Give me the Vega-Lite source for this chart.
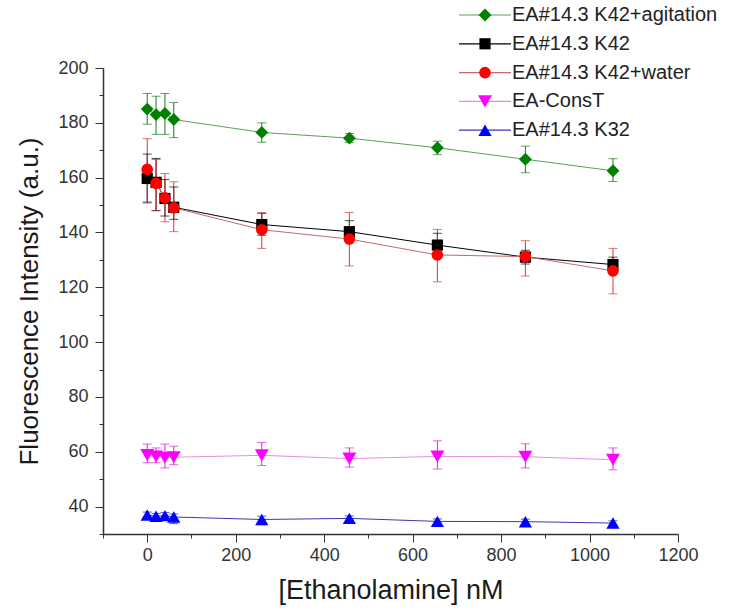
{
  "$schema": "https://vega.github.io/schema/vega-lite/v6.json",
  "width": 575,
  "height": 466,
  "autosize": {"type": "none"},
  "padding": {"left": 103, "top": 68, "right": 60, "bottom": 80},
  "background": "white",
  "config": {
    "view": {"stroke": null},
    "font": "Liberation Sans",
    "axis": {
      "domainColor": "#333333",
      "domainWidth": 1.5,
      "tickColor": "#333333",
      "tickWidth": 1,
      "labelColor": "#333333",
      "labelFont": "Liberation Sans",
      "labelFontSize": 18,
      "titleFont": "Liberation Sans",
      "titleFontSize": 27,
      "titleFontWeight": "normal",
      "titleColor": "#1a1a1a",
      "grid": false
    },
    "legend": {
      "labelFont": "Liberation Sans",
      "labelFontSize": 20,
      "labelColor": "#222222",
      "labelLimit": 400
    }
  },
  "data": {
    "values": [
      {"series": "\u00a0EA#14.3 K42+agitation", "x": 0, "y": 185, "lo": 179.5, "hi": 190.7},
      {"series": "\u00a0EA#14.3 K42+agitation", "x": 20, "y": 183, "lo": 175.8, "hi": 189.7},
      {"series": "\u00a0EA#14.3 K42+agitation", "x": 40, "y": 183.4, "lo": 175.8, "hi": 190.7},
      {"series": "\u00a0EA#14.3 K42+agitation", "x": 60, "y": 181.2, "lo": 174.6, "hi": 187.4},
      {"series": "\u00a0EA#14.3 K42+agitation", "x": 259, "y": 176.5, "lo": 172.9, "hi": 180},
      {"series": "\u00a0EA#14.3 K42+agitation", "x": 457, "y": 174.4, "lo": 172.8, "hi": 176.1},
      {"series": "\u00a0EA#14.3 K42+agitation", "x": 656, "y": 170.9, "lo": 168.4, "hi": 173.3},
      {"series": "\u00a0EA#14.3 K42+agitation", "x": 855, "y": 166.7, "lo": 161.8, "hi": 171.5},
      {"series": "\u00a0EA#14.3 K42+agitation", "x": 1053, "y": 162.5, "lo": 158.6, "hi": 166.9},
      {"series": "EA#14.3 K42", "x": 0, "y": 159.7, "lo": 150.8, "hi": 168.6},
      {"series": "EA#14.3 K42", "x": 20, "y": 158.3, "lo": 148, "hi": 167},
      {"series": "EA#14.3 K42", "x": 40, "y": 152.4, "lo": 146, "hi": 159.3},
      {"series": "EA#14.3 K42", "x": 60, "y": 149.2, "lo": 144.8, "hi": 156.6},
      {"series": "EA#14.3 K42", "x": 259, "y": 142.9, "lo": 139, "hi": 147},
      {"series": "EA#14.3 K42", "x": 457, "y": 140.3, "lo": 137.5, "hi": 144.3},
      {"series": "EA#14.3 K42", "x": 656, "y": 135.4, "lo": 131, "hi": 139.7},
      {"series": "EA#14.3 K42", "x": 855, "y": 131, "lo": 128.5, "hi": 133.5},
      {"series": "EA#14.3 K42", "x": 1053, "y": 128.3, "lo": 125.5, "hi": 131},
      {"series": "EA#14.3 K42+water", "x": 0, "y": 163, "lo": 151.2, "hi": 174.2},
      {"series": "EA#14.3 K42+water", "x": 20, "y": 157.9, "lo": 147.9, "hi": 166.6},
      {"series": "EA#14.3 K42+water", "x": 40, "y": 152.6, "lo": 143.9, "hi": 161.5},
      {"series": "EA#14.3 K42+water", "x": 60, "y": 149, "lo": 140.3, "hi": 158.5},
      {"series": "EA#14.3 K42+water", "x": 259, "y": 141, "lo": 134.2, "hi": 147.2},
      {"series": "EA#14.3 K42+water", "x": 457, "y": 137.6, "lo": 127.8, "hi": 147.3},
      {"series": "EA#14.3 K42+water", "x": 656, "y": 131.8, "lo": 122, "hi": 141.1},
      {"series": "EA#14.3 K42+water", "x": 855, "y": 131.2, "lo": 124.1, "hi": 137},
      {"series": "EA#14.3 K42+water", "x": 1053, "y": 126, "lo": 117.6, "hi": 134.2},
      {"series": "EA-ConsT", "x": 0, "y": 58.8, "lo": 56, "hi": 62.8},
      {"series": "EA-ConsT", "x": 20, "y": 58.3, "lo": 56, "hi": 61.4},
      {"series": "EA-ConsT", "x": 40, "y": 57.8, "lo": 54.1, "hi": 62.8},
      {"series": "EA-ConsT", "x": 60, "y": 58, "lo": 55.3, "hi": 62},
      {"series": "EA-ConsT", "x": 259, "y": 58.7, "lo": 55, "hi": 63.4},
      {"series": "EA-ConsT", "x": 457, "y": 57.5, "lo": 54.4, "hi": 61.4},
      {"series": "EA-ConsT", "x": 656, "y": 58.3, "lo": 53.7, "hi": 64},
      {"series": "EA-ConsT", "x": 855, "y": 58.2, "lo": 54.1, "hi": 62.9},
      {"series": "EA-ConsT", "x": 1053, "y": 57.1, "lo": 53.4, "hi": 61.4},
      {"series": "EA#14.3 K32", "x": 0, "y": 36.9, "lo": 35.5, "hi": 38},
      {"series": "EA#14.3 K32", "x": 20, "y": 36.5, "lo": 35.3, "hi": 37.5},
      {"series": "EA#14.3 K32", "x": 40, "y": 36.7, "lo": 35.6, "hi": 37.8},
      {"series": "EA#14.3 K32", "x": 60, "y": 36.2, "lo": 33.8, "hi": 37.3},
      {"series": "EA#14.3 K32", "x": 259, "y": 35.3, "lo": 33.4, "hi": 36.5},
      {"series": "EA#14.3 K32", "x": 457, "y": 35.7, "lo": 34.6, "hi": 36.6},
      {"series": "EA#14.3 K32", "x": 656, "y": 34.6, "lo": 32.8, "hi": 35.5},
      {"series": "EA#14.3 K32", "x": 855, "y": 34.5, "lo": 33.5, "hi": 35.4},
      {"series": "EA#14.3 K32", "x": 1053, "y": 34, "lo": 33.2, "hi": 34.8}
    ]
  },
  "encoding": {
    "x": {
      "field": "x",
      "type": "quantitative",
      "scale": {"domain": [-100, 1200], "nice": false, "zero": false},
      "axis": {
        "title": "[Ethanolamine] nM",
        "values": [-100, 0, 100, 200, 300, 400, 500, 600, 700, 800, 900, 1000, 1100, 1200],
        "format": "d",
        "labelExpr": "datum.value % 200 === 0 ? datum.label : ''",
        "tickSize": {"condition": {"test": "datum.value % 200 === 0", "value": 8}, "value": 4},
        "labelPadding": 4,
        "titlePadding": 13,
        "labelFlush": false,
        "labelOverlap": false
      }
    },
    "y": {
      "field": "y",
      "type": "quantitative",
      "scale": {"domain": [30, 200], "nice": false, "zero": false},
      "axis": {
        "title": "Fluorescence Intensity (a.u.)",
        "titleFontSize": 26,
        "values": [30, 40, 50, 60, 70, 80, 90, 100, 110, 120, 130, 140, 150, 160, 170, 180, 190, 200],
        "format": "d",
        "labelExpr": "datum.value % 20 === 0 && datum.value >= 40 ? datum.label : ''",
        "tickSize": {"condition": {"test": "datum.value % 20 === 0", "value": 8}, "value": 4},
        "labelPadding": 7,
        "titlePadding": 15,
        "labelFlush": false,
        "labelOverlap": false
      }
    }
  },
  "layer": [
    {
      "mark": {"type": "line", "strokeWidth": 1},
      "encoding": {
        "color": {
          "field": "series",
          "type": "nominal",
          "scale": {
            "domain": ["\u00a0EA#14.3 K42+agitation", "EA#14.3 K42", "EA#14.3 K42+water", "EA-ConsT", "EA#14.3 K32"],
            "range": ["#5c9e5c", "#000000", "#c46a6a", "#e88ce8", "#3a3aa8"]
          },
          "legend": {
            "title": null,
            "orient": "none",
            "legendX": 372,
            "legendY": -63,
            "padding": 0,
            "symbolType": "M-5.2,0H5.2",
            "symbolSize": 100,
            "symbolStrokeWidth": 1.2,
            "labelOffset": 17,
            "rowPadding": 8.8
          }
        }
      }
    },
    {
      "mark": {"type": "rule", "strokeWidth": 1},
      "encoding": {
        "y": {
          "field": "lo",
          "type": "quantitative",
          "scale": {"domain": [30, 200], "nice": false, "zero": false},
          "axis": {
            "title": "Fluorescence Intensity (a.u.)",
            "titleFontSize": 26,
            "values": [30, 40, 50, 60, 70, 80, 90, 100, 110, 120, 130, 140, 150, 160, 170, 180, 190, 200],
            "format": "d",
            "labelExpr": "datum.value % 20 === 0 && datum.value >= 40 ? datum.label : ''",
            "tickSize": {"condition": {"test": "datum.value % 20 === 0", "value": 8}, "value": 4},
            "labelPadding": 7,
            "titlePadding": 15,
            "labelFlush": false,
            "labelOverlap": false
          }
        },
        "y2": {"field": "hi"},
        "color": {
          "field": "series",
          "type": "nominal",
          "scale": {
            "domain": ["\u00a0EA#14.3 K42+agitation", "EA#14.3 K42", "EA#14.3 K42+water", "EA-ConsT", "EA#14.3 K32"],
            "range": ["#1f7a1f", "#000000", "#d03a3a", "#e020e0", "#1010e0"]
          },
          "legend": null
        }
      }
    },
    {
      "mark": {"type": "tick", "orient": "horizontal", "size": 9, "thickness": 1},
      "encoding": {
        "y": {
          "field": "lo",
          "type": "quantitative",
          "scale": {"domain": [30, 200], "nice": false, "zero": false},
          "axis": {
            "title": "Fluorescence Intensity (a.u.)",
            "titleFontSize": 26,
            "values": [30, 40, 50, 60, 70, 80, 90, 100, 110, 120, 130, 140, 150, 160, 170, 180, 190, 200],
            "format": "d",
            "labelExpr": "datum.value % 20 === 0 && datum.value >= 40 ? datum.label : ''",
            "tickSize": {"condition": {"test": "datum.value % 20 === 0", "value": 8}, "value": 4},
            "labelPadding": 7,
            "titlePadding": 15,
            "labelFlush": false,
            "labelOverlap": false
          }
        },
        "color": {
          "field": "series",
          "type": "nominal",
          "scale": {
            "domain": ["\u00a0EA#14.3 K42+agitation", "EA#14.3 K42", "EA#14.3 K42+water", "EA-ConsT", "EA#14.3 K32"],
            "range": ["#1f7a1f", "#000000", "#d03a3a", "#e020e0", "#1010e0"]
          },
          "legend": null
        }
      }
    },
    {
      "mark": {"type": "tick", "orient": "horizontal", "size": 9, "thickness": 1},
      "encoding": {
        "y": {
          "field": "hi",
          "type": "quantitative",
          "scale": {"domain": [30, 200], "nice": false, "zero": false},
          "axis": {
            "title": "Fluorescence Intensity (a.u.)",
            "titleFontSize": 26,
            "values": [30, 40, 50, 60, 70, 80, 90, 100, 110, 120, 130, 140, 150, 160, 170, 180, 190, 200],
            "format": "d",
            "labelExpr": "datum.value % 20 === 0 && datum.value >= 40 ? datum.label : ''",
            "tickSize": {"condition": {"test": "datum.value % 20 === 0", "value": 8}, "value": 4},
            "labelPadding": 7,
            "titlePadding": 15,
            "labelFlush": false,
            "labelOverlap": false
          }
        },
        "color": {
          "field": "series",
          "type": "nominal",
          "scale": {
            "domain": ["\u00a0EA#14.3 K42+agitation", "EA#14.3 K42", "EA#14.3 K42+water", "EA-ConsT", "EA#14.3 K32"],
            "range": ["#1f7a1f", "#000000", "#d03a3a", "#e020e0", "#1010e0"]
          },
          "legend": null
        }
      }
    },
    {
      "mark": {"type": "point", "filled": true, "opacity": 1, "strokeWidth": 0},
      "encoding": {
        "color": {
          "field": "series",
          "type": "nominal",
          "scale": {
            "domain": ["\u00a0EA#14.3 K42+agitation", "EA#14.3 K42", "EA#14.3 K42+water", "EA-ConsT", "EA#14.3 K32"],
            "range": ["#008000", "#000000", "#ff0000", "#ff00ff", "#0000ff"]
          },
          "legend": {
            "title": null,
            "orient": "none",
            "legendX": 372,
            "legendY": -63,
            "padding": 0,
            "labelOffset": 17,
            "rowPadding": 8.8,
            "labelOpacity": 0
          }
        },
        "shape": {
          "field": "series",
          "type": "nominal",
          "scale": {
            "domain": ["\u00a0EA#14.3 K42+agitation", "EA#14.3 K42", "EA#14.3 K42+water", "EA-ConsT", "EA#14.3 K32"],
            "range": ["diamond", "square", "circle", "triangle-down", "triangle-up"]
          },
          "legend": {
            "title": null,
            "orient": "none",
            "legendX": 372,
            "legendY": -63,
            "padding": 0,
            "labelOffset": 17,
            "rowPadding": 8.8,
            "labelOpacity": 0
          }
        },
        "size": {
          "field": "series",
          "type": "nominal",
          "scale": {
            "type": "ordinal",
            "domain": ["\u00a0EA#14.3 K42+agitation", "EA#14.3 K42", "EA#14.3 K42+water", "EA-ConsT", "EA#14.3 K32"],
            "range": [165, 125, 135, 195, 175]
          },
          "legend": {
            "title": null,
            "orient": "none",
            "legendX": 372,
            "legendY": -63,
            "padding": 0,
            "labelOffset": 17,
            "rowPadding": 8.8,
            "labelOpacity": 0
          }
        }
      }
    }
  ],
  "resolve": {"scale": {"color": "independent", "shape": "independent", "size": "independent"}}
}
